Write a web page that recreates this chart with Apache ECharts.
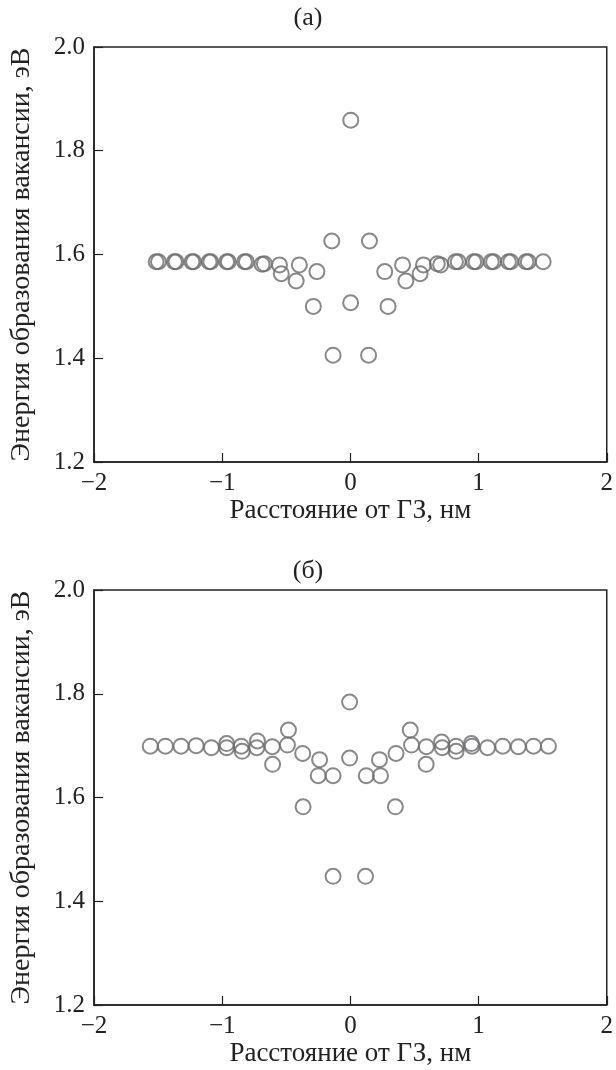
<!DOCTYPE html>
<html><head><meta charset="utf-8">
<script src="https://cdn.jsdelivr.net/npm/echarts@6/dist/echarts.min.js"></script>
<style>html,body{margin:0;padding:0;background:#fff}#c{width:616px;height:1070px}</style>
</head><body><div id="c"></div>
<script>
const panelTitles = ['(а)', '(б)'];
const xName = 'Расстояние от ГЗ, нм';
const yName = 'Энергия образования вакансии, эВ';
const xRange = [-2, 2];
const yRange = [1.2, 2.0];

const panelA_x = [-1.515,-1.497,-1.373,-1.360,-1.236,-1.223,-1.102,-1.089,-0.965,-0.952,-0.826,-0.811,
  -0.689,-0.671,-0.553,-0.539,-0.398,-0.423,-0.261,-0.145,-0.289,0.002,-0.135,0.003,
  0.149,0.294,0.142,0.268,0.407,0.433,0.544,0.570,0.678,0.704,0.820,0.841,0.962,0.980,
  1.099,1.117,1.233,1.251,1.370,1.388,1.504];
const panelA_y = [1.586,1.586,1.586,1.586,1.586,1.586,1.586,1.586,1.586,1.586,1.586,1.586,
  1.581,1.582,1.580,1.563,1.580,1.549,1.567,1.626,1.500,1.507,1.406,1.859,
  1.626,1.500,1.406,1.567,1.580,1.549,1.563,1.580,1.582,1.580,1.586,1.586,1.586,1.586,
  1.586,1.586,1.586,1.586,1.586,1.586,1.586];

const panelB_x = [-1.561,-1.443,-1.321,-1.203,-1.084,-0.965,-0.965,-0.851,-0.844,-0.725,-0.730,
  -0.609,-0.607,-0.483,-0.491,-0.372,-0.369,-0.240,-0.251,-0.135,-0.135,-0.006,-0.006,
  0.118,0.124,0.227,0.235,0.356,0.351,0.467,0.477,0.593,0.591,0.712,0.717,0.825,0.825,
  0.944,0.949,1.070,1.189,1.310,1.429,1.545];
const panelB_y = [1.699,1.699,1.699,1.700,1.696,1.704,1.696,1.699,1.689,1.709,1.696,
  1.698,1.664,1.730,1.701,1.685,1.582,1.673,1.642,1.642,1.448,1.784,1.676,
  1.448,1.642,1.673,1.642,1.685,1.582,1.730,1.701,1.698,1.664,1.707,1.696,1.699,1.689,
  1.704,1.699,1.696,1.699,1.698,1.699,1.699];

const serif = 'Liberation Serif';
const ink = '#222';
const mark = '#6b6b6e';

const grids = [
  {left: 92, top: 47, width: 517, height: 415},
  {left: 92, top: 590, width: 517, height: 415}
];
const titleTops = [0, 553];

function fmtX(v){ return v < 0 ? '\u2212' + Math.abs(v) : String(v); }

const option = {
  backgroundColor: '#fff',
  animation: false,
  title: panelTitles.map((t, i) => ({
    text: t, left: 'center', top: titleTops[i],
    textStyle: {fontFamily: serif, fontSize: 26, fontWeight: 'normal', color: ink}
  })),
  grid: grids.map(g => Object.assign({show: true, borderColor: ink, borderWidth: 1.5, backgroundColor: 'transparent'}, g)),
  xAxis: grids.map((g, i) => ({
    type: 'value', gridIndex: i, min: xRange[0], max: xRange[1], interval: 1,
    name: xName, nameLocation: 'middle', nameGap: 35,
    nameTextStyle: {fontFamily: serif, fontSize: 27, color: ink},
    axisLine: {show: true, onZero: false, lineStyle: {color: ink, width: 1.5}},
    axisTick: {show: true, inside: true, length: 9, lineStyle: {color: ink, width: 1.2}},
    axisLabel: {fontFamily: serif, fontSize: 25, color: ink, margin: 9, formatter: fmtX},
    splitLine: {show: false}
  })),
  yAxis: grids.map((g, i) => ({
    type: 'value', gridIndex: i, min: yRange[0], max: yRange[1], interval: 0.2,
    name: yName, nameLocation: 'middle', nameGap: 58,
    nameTextStyle: {fontFamily: serif, fontSize: 28, color: ink},
    axisLine: {show: true, onZero: false, lineStyle: {color: ink, width: 1.5}},
    axisTick: {show: true, inside: true, length: 9, lineStyle: {color: ink, width: 1.2}},
    axisLabel: {fontFamily: serif, fontSize: 25, color: ink, margin: 9, formatter: v => v.toFixed(1)},
    splitLine: {show: false}
  })),
  series: [[panelA_x, panelA_y], [panelB_x, panelB_y]].map((p, i) => ({
    type: 'scatter', xAxisIndex: i, yAxisIndex: i,
    symbol: 'circle', symbolSize: 15,
    itemStyle: {color: 'rgba(255,255,255,0)', borderColor: mark, borderWidth: 2},
    emphasis: {disabled: true},
    data: p[0].map((x, k) => [x, p[1][k]])
  }))
};
echarts.init(document.getElementById('c'), null, {renderer: 'canvas'}).setOption(option);
</script></body></html>
